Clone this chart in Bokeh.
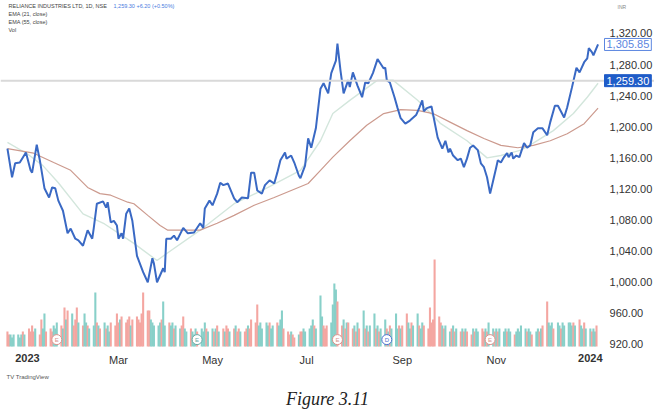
import pandas as pd
from bokeh.plotting import figure
from bokeh.models import (Range1d, FixedTicker, NumeralTickFormatter, Span, Label, Title, LinearAxis)
from bokeh.embed import file_html
from bokeh.resources import INLINE
from bokeh.core.properties import value

# ---------------- data ----------------
# days counted from 2023-01-01
price_days = [-13,-10,-8,-5,-1,2,3,6,8,11,
              14,16,18,20,23,26,28,31,33,36,
              39,42,43,45,49,51,52,54,56,58,
              59,61,62,64,66,68,71,75,78,81,
              82,84,88,89,90,93,95,97,101,104,
              108,112,114,115,118,120,123,125,127,130,
              134,136,139,143,145,147,149,152,154,157,
              160,162,164,167,168,171,173,176,177,180,
              182,184,187,190,192,195,197,200,201,203,
              205,208,209,211,214,217,219,221,224,227,
              229,231,232,233,235,238,240,242,245,248,
              252,254,256,257,259,262,266,269,271,273,
              274,276,279,281,283,285,287,289,292,294,
              296,298,300,302,304,305,307,309,311,312,
              314,315,317,319,322,324,326,328,331,334,
              337,339,342,344,348,350,353,356,358,361,
              363,364,366,367,370]
price_close = [1172,1135,1153,1154,1167,1144,1141,1177,1157,1121,
               1109,1122,1121,1105,1092,1063,1069,1056,1054,1047,
               1067,1056,1070,1101,1104,1096,1103,1077,1079,1073,
               1056,1063,1056,1088,1095,1079,1034,1013,1000,1031,
               1024,1000,1018,1013,1056,1056,1060,1054,1070,1063,
               1064,1076,1070,1095,1105,1099,1114,1128,1125,1127,
               1108,1103,1109,1108,1141,1141,1118,1114,1125,1131,
               1127,1141,1157,1167,1159,1163,1154,1137,1134,1150,
               1185,1173,1198,1249,1256,1243,1269,1285,1307,1272,
               1243,1260,1251,1270,1253,1238,1257,1256,1269,1287,
               1281,1275,1276,1260,1257,1238,1224,1211,1204,1208,
               1215,1224,1234,1220,1224,1226,1186,1172,1182,1167,
               1172,1163,1157,1159,1148,1159,1173,1176,1170,1153,
               1148,1135,1114,1131,1148,1157,1154,1161,1166,1161,
               1167,1159,1163,1161,1179,1173,1176,1193,1198,1198,
               1189,1206,1227,1227,1212,1225,1250,1276,1270,1283,
               1288,1301,1296,1292,1306]

ema21_days = [-13,0,10,20,36,50,69,84,91,112,134,156,177,190,198,209,227,237,
              253,268,285,298,307,320,328,341,354,363,370]
ema21_vals = [1180,1165,1150,1128,1088,1075,1050,1028,1038,1067,1101,1122,1144,1182,
              1217,1234,1260,1260,1234,1204,1182,1160,1163,1170,1179,1195,1217,1238,1256]

ema55_days = [-13,4,17,28,39,47,54,65,69,78,86,91,99,112,123,134,147,160,171,182,
              190,198,209,220,231,242,253,263,274,285,296,307,318,328,339,350,361,370]
ema55_vals = [1172,1166,1154,1144,1122,1114,1112,1103,1101,1086,1073,1067,1067,1067,
              1076,1086,1099,1109,1118,1127,1144,1161,1182,1202,1217,1222,1221,1217,
              1206,1195,1185,1176,1173,1176,1182,1191,1204,1224]

# daily volume (millions), one per trading day from 2022-12-19
volume = [5,4,4,3,4,4,3,4,5,4,
          6,5,7,5,6,4,9,6,11,5,
          6,5,7,6,8,7,6,13,9,12,
          11,7,9,13,8,7,11,8,7,6,
          7,18,8,7,6,8,6,7,5,8,
          7,11,8,9,10,8,9,10,7,9,
          10,9,8,11,18,12,12,9,8,7,
          7,8,9,15,7,8,7,8,6,7,
          6,7,10,6,5,6,5,4,6,5,
          6,5,8,6,5,6,5,6,7,5,
          6,5,7,6,5,6,7,5,6,5,
          5,6,7,6,9,8,14,7,8,6,
          8,7,8,6,7,8,7,9,12,6,
          5,4,5,4,3,4,5,5,6,5,
          6,7,9,7,6,17,10,7,6,7,
          8,14,21,19,15,7,9,6,8,8,
          6,7,5,8,6,12,6,7,5,7,
          11,6,7,5,6,9,6,5,7,6,
          11,6,7,6,7,11,8,6,8,7,
          11,7,6,8,7,6,13,8,9,29,
          10,8,7,6,7,5,6,7,5,6,
          5,6,5,6,5,4,6,5,6,5,
          6,5,6,5,8,6,5,6,5,6,
          5,6,5,6,5,4,5,6,5,7,
          6,5,6,5,4,5,6,5,6,7,
          15,8,7,8,6,8,7,6,8,7,
          8,8,7,8,7,9,7,6,8,6,
          6,5,6,5,7]
# bar direction: u = close up (teal), d = close down (red)
direction_groups = ["dduuuuuudu", "ddddudduud", "dduuududud", "uddduduudu",
                    "uudududuud", "ddduddddud", "ddddddduuu", "uuduuduudu",
                    "udduuduuud", "uuuduududu", "duddududdu", "ddudddduuu",
                    "uuduuduuud", "dduddudduu", "uuuduuuddd", "uuuuddudud",
                    "dududududu", "ududuududu", "uududduudu", "uduudddddd",
                    "dduduududu", "dududduduu", "dduduududu", "uuduuduuuu",
                    "uduuduudud", "duuuduuduu", "uuududuudu", "uduud"]

month_ticks = [59, 120, 181, 243, 304]
month_labels = ["Mar", "May", "Jul", "Sep", "Nov"]
year_ticks = [0, 365]
year_labels = ["2023", "2024"]
ticks_y = [920, 960, 1000, 1040, 1080, 1120, 1160, 1200, 1240, 1280, 1320]

event_days = [19, 110, 201, 233, 300]
event_letters = ["E", "E", "E", "D", "E"]
event_colors = ["#d9918b", "#6aa9a4", "#d9918b", "#4a72d0", "#d9918b"]

last_price = 1305.85
ref_price = 1259.30

# ---------------- figure ----------------
# the frame also covers the time-scale row; both scales are drawn inside it
p = figure(width=654, height=416, output_backend="svg", toolbar_location=None,
           x_range=Range1d(-17.5, 406.6), y_range=Range1d(889.1, 1362.4),
           y_axis_location="right", min_border_left=0, min_border_right=0,
           min_border_top=0, min_border_bottom=48)
p.outline_line_color = None
p.grid.visible = False
p.background_fill_color = "white"
p.border_fill_color = "white"

# volume
p.extra_y_ranges = {"vol": Range1d(-7.33, 115.33)}
bdays = pd.bdate_range("2022-12-19", "2024-01-05")
base = pd.Timestamp("2023-01-01")
vol_days = [(d - base).days for d in bdays]
direction = "".join(direction_groups)
n = min(len(vol_days), len(volume), len(direction))
vol_colors = ["#88d0c9" if c == "u" else "#f4a6a1" for c in direction[:n]]
p.vbar(x=vol_days[:n], top=volume[:n], width=1.35, bottom=0, y_range_name="vol",
       fill_color=vol_colors, line_color=None)

# event markers
p.scatter(x=event_days, y=[2.3] * 5, y_range_name="vol", size=10, marker="circle",
          fill_color="white", line_color=event_colors, line_width=1)
p.text(x=event_days, y=[2.3] * 5, text=event_letters, y_range_name="vol",
       text_font=value("Liberation Sans"), text_font_size="6px",
       text_align="center", text_baseline="middle", text_color=event_colors)

# horizontal price line
p.add_layout(Span(location=ref_price, dimension="width", line_color="#d9d9d9", line_width=2))

# EMAs and price
p.line(ema21_days, ema21_vals, line_color="#d3e6dc", line_width=1.4)
p.line(ema55_days, ema55_vals, line_color="#cc9a8e", line_width=1.2)
p.line(price_days, price_close, line_color="#3a69c4", line_width=2)

# price scale, drawn inside the right part of the frame
p.yaxis.fixed_location = 370.3
p.yaxis.ticker = FixedTicker(ticks=ticks_y)
p.yaxis.formatter = NumeralTickFormatter(format="0,0.00")
p.yaxis.major_label_text_font = "Liberation Sans"
p.yaxis.major_label_text_font_size = "11px"
p.yaxis.major_label_text_color = "#333333"
p.yaxis.major_tick_line_color = None
p.yaxis.minor_tick_line_color = None
p.yaxis.axis_line_color = None
p.yaxis.major_label_standoff = 5

# time scale: months (normal) and years (bold), both at the bottom of the chart pane
p.xaxis.ticker = FixedTicker(ticks=month_ticks)
p.xaxis.major_label_overrides = {t: l for t, l in zip(month_ticks, month_labels)}
p.xaxis.fixed_location = 912.3
year_axis = LinearAxis(ticker=FixedTicker(ticks=year_ticks), fixed_location=912.3,
                       major_label_overrides={t: l for t, l in zip(year_ticks, year_labels)},
                       major_label_text_font_style="bold")
p.add_layout(year_axis, "below")
for ax in (p.xaxis[0], year_axis):
    ax.major_label_text_font = "Liberation Sans"
    ax.major_label_text_font_size = "11px"
    ax.major_label_text_color = "#333333"
    ax.major_tick_line_color = None
    ax.minor_tick_line_color = None
    ax.axis_line_color = None
    ax.major_label_standoff = -2

# price tags on the scale
p.add_layout(Label(x=604, x_units="screen", y=last_price, text="1,305.85",
                   text_baseline="middle", text_font="Liberation Sans", text_font_size="11px",
                   text_color="#5b86e0", background_fill_color="white",
                   border_line_color="#5b86e0", padding=2))
p.add_layout(Label(x=604, x_units="screen", y=ref_price, text="1,259.30",
                   text_baseline="middle", text_font="Liberation Sans", text_font_size="11px",
                   text_color="white", background_fill_color="#1f5cc8",
                   border_line_color="#1f5cc8", padding=2))
p.add_layout(Label(x=617, x_units="screen", y=365, y_units="screen", text="INR",
                   text_font="Liberation Sans", text_font_size="5px", text_color="#888888",
                   text_baseline="top"))

# header legend
hdr = [("RELIANCE INDUSTRIES LTD, 1D, NSE", 366), ("EMA (21, close)", 358),
       ("EMA (55, close)", 350), ("Vol", 342)]
for txt, yy in hdr:
    p.add_layout(Label(x=8, y=yy, x_units="screen", y_units="screen", text=txt,
                       text_font="Liberation Sans", text_font_size="5.5px",
                       text_color="#444444", text_baseline="top"))
p.add_layout(Label(x=113, y=366, x_units="screen", y_units="screen",
                   text="1,259.30  +6.20 (+0.50%)", text_font="Liberation Sans",
                   text_font_size="5.5px", text_color="#4a7be0", text_baseline="top"))

# footer
p.add_layout(Title(text="TV  TradingView", align="left", offset=6, text_font="Liberation Sans",
                   text_font_size="6px", text_font_style="normal", text_color="#555555",
                   standoff=6), "below")
p.add_layout(Title(text="Figure 3.11", align="center", text_font="Liberation Serif",
                   text_font_size="18px", text_font_style="italic", text_color="#222222",
                   standoff=9), "below")

open("out.html", "w").write(file_html(p, INLINE))
